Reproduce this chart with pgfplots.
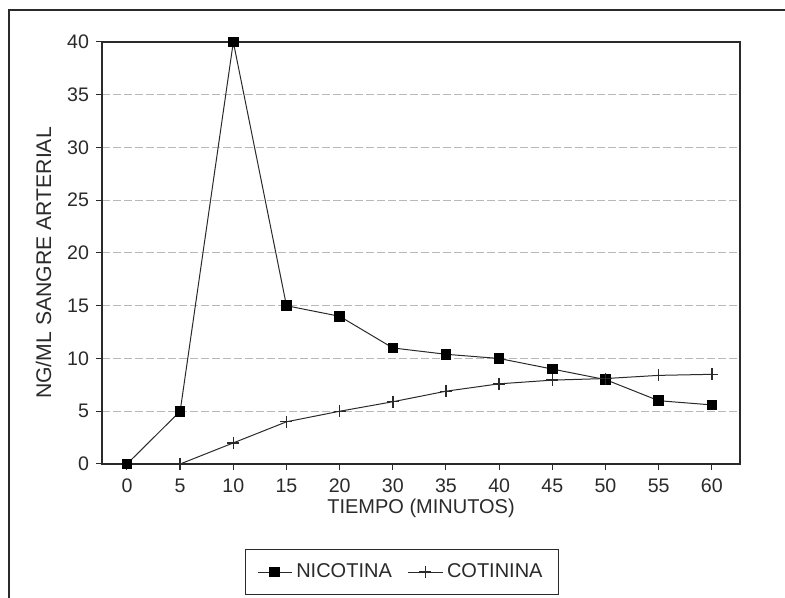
\documentclass[border=0pt]{standalone}
\usepackage{pgfplots}
\pgfplotsset{compat=1.18}
\usepackage{fontspec}
\setmainfont{Liberation Sans}
\definecolor{ink}{HTML}{2A2A2A}
\definecolor{gridc}{HTML}{B8B8B8}

\begin{document}
\begin{tikzpicture}[font=\fontsize{10}{11}\selectfont, text=ink]
% 1px = 0.5pt, picture 785x598 px
\useasboundingbox (0,0) rectangle (392.5pt,299pt);
\draw[ink, line width=0.6pt] (4.5pt,0) -- (4.5pt,294pt) -- (392.5pt,294pt);
\begin{axis}[
    at={(51pt,67pt)}, anchor=south west,
    scale only axis,
    width=319pt, height=211pt,
    xmin=-0.47, xmax=11.53,
    ymin=0, ymax=40,
    xtick={0,...,11},
    xticklabels={0,5,10,15,20,30,35,40,45,50,55,60},
    ytick={0,5,10,15,20,25,30,35,40},
    tick align=outside,
    xtick pos=bottom, ytick pos=left,
    major tick length=3pt,
    tick style={ink, line width=0.5pt},
    axis line style={ink, line width=0.6pt},
    ymajorgrids=true,
    grid style={gridc, dash pattern=on 4pt off 1.5pt, line width=0.5pt},
    /pgf/number format/assume math mode=true,
    ticklabel style={font=\fontsize{9.8}{11}\selectfont},
    xticklabel style={yshift=-1pt},
    xlabel={TIEMPO (MINUTOS)},
    ylabel={NG/ML SANGRE ARTERIAL},
    xlabel style={yshift=4pt, font=\fontsize{10}{11}\selectfont},
    ylabel style={yshift=1pt, xshift=-5pt, font=\fontsize{10.6}{12}\selectfont},
    legend columns=2,
    legend style={at={(0.47,-0.256)}, anchor=center, draw=ink, line width=0.5pt,
        font=\fontsize{10}{11}\selectfont, inner xsep=6pt, inner ysep=5pt,
        /tikz/every even column/.append style={column sep=6pt}},
    legend cell align=left,
]
\addplot[ink, line width=0.5pt, mark=square*, mark size=2.4pt,
    mark options={fill=black, draw=black}]
    coordinates {
    (0,0)(1,5)(2,40)(3,15)(4,14)(5,11)(6,10.4)(7,10)(8,9)(9,8)(10,6)(11,5.6)
    };
\addplot[ink, line width=0.5pt, mark=+, mark size=3pt,
    mark options={line width=0.7pt}]
    coordinates {
    (1,0)(2,2)(3,4)(4,5)(5,5.9)(6,6.9)(7,7.6)(8,7.95)(9,8.1)(10,8.4)(11,8.5)
    };
\legend{NICOTINA, COTININA}
\end{axis}
\end{tikzpicture}
\end{document}
